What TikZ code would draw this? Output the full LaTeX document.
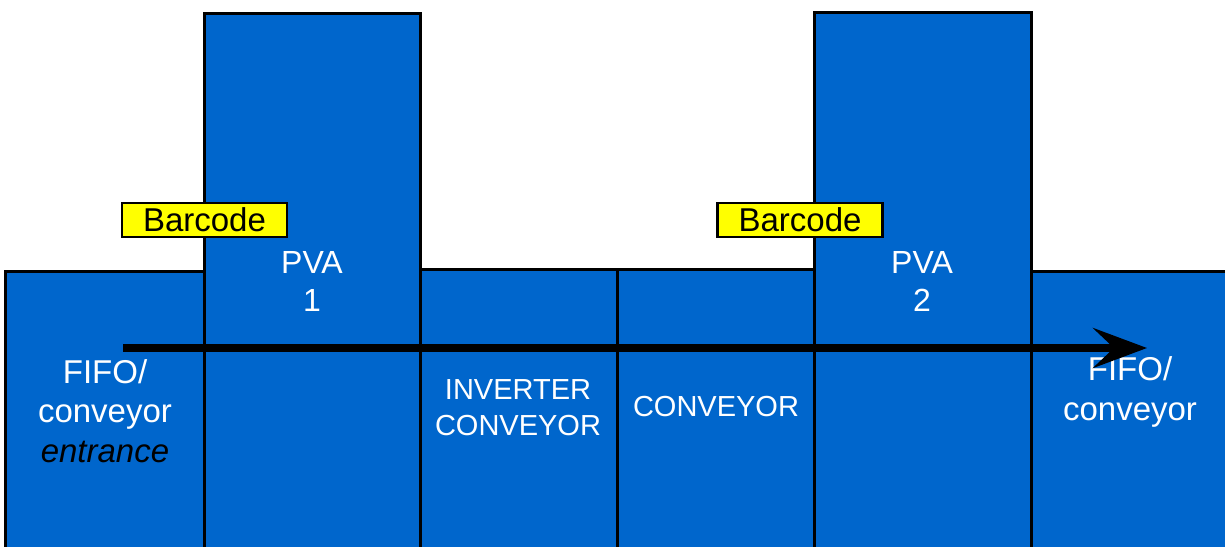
\documentclass[tikz,border=0pt]{standalone}
\usepackage{fontspec}
\setmainfont{Liberation Sans}
\usetikzlibrary{arrows.meta}
\definecolor{beltblue}{RGB}{0,102,204}
\definecolor{tagyellow}{RGB}{255,255,0}
\tikzset{
	station/.style={fill=beltblue, draw=black, line width=3pt},
	tag/.style={fill=tagyellow, draw=black, line width=2.5pt, minimum width=165pt, minimum height=34pt, inner sep=0pt, font=\fontsize{33}{38}\selectfont},
	boxtext/.style={text=white, align=center, inner sep=0pt}
}
\begin{document}
\begin{tikzpicture}[x=1pt, y=-1pt, line join=miter, >={Stealth[length=54pt, width=40pt, inset=21pt]}]
	\useasboundingbox (0,0) rectangle (1225,546);
	\clip (0,0) rectangle (1225,546);
	% Các trạm của dây chuyền
	\filldraw[station] (5,271) rectangle (204,570);
	\filldraw[station] (204,13) rectangle (420,570);
	\filldraw[station] (420,269) rectangle (617,570);
	\filldraw[station] (617,269) rectangle (814,570);
	\filldraw[station] (814,12) rectangle (1031,570);
	\filldraw[station] (1031,271) rectangle (1240,570);
	% Chữ trong các trạm
	\node[boxtext, font=\fontsize{33}{39.5}\selectfont] (fifoin) at (105,411) {FIFO/\\conveyor\\\textcolor{black}{\itshape entrance}};
	\node[boxtext, font=\fontsize{32}{38}\selectfont] (pvaA) at (312,281) {PVA\\1};
	\node[boxtext, font=\fontsize{29}{36}\selectfont] (inverter) at (518,408) {INVERTER\\CONVEYOR};
	\node[boxtext, font=\fontsize{29}{36}\selectfont] (conveyor) at (716,407) {CONVEYOR};
	\node[boxtext, font=\fontsize{32}{38}\selectfont] (pvaB) at (922,281) {PVA\\2};
	\node[boxtext, font=\fontsize{33}{39.5}\selectfont] (fifoout) at (1130,392) {FIFO/\\conveyor};
	% Mũi tên dòng sản phẩm
	\coordinate (S) at (123,348);
	\coordinate (T) at (1147,348);
	\draw[->, line width=7.5pt] (S)--(T);
	% Nhãn mã vạch
	\node[tag] (codeA) at (204.5,220) {Barcode};
	\node[tag] (codeB) at (800,220) {Barcode};
\end{tikzpicture}
\end{document}
